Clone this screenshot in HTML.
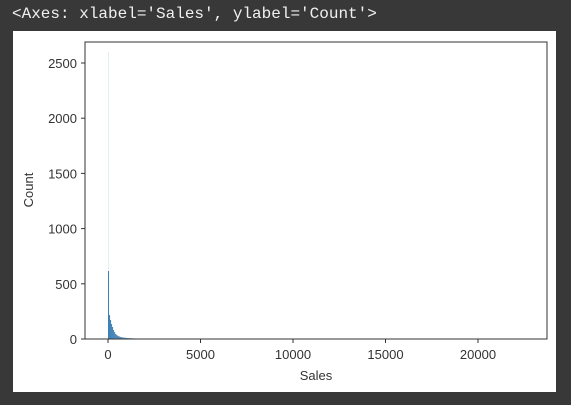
<!DOCTYPE html>
<html><head><meta charset="utf-8"><style>
body{margin:0;width:571px;height:405px;background:#383838;overflow:hidden;font-family:"Liberation Sans",sans-serif}
#hdr{position:absolute;left:12px;top:5px;color:#f0f0f0;font:16px "Liberation Mono","DejaVu Sans Mono",monospace}
#fig{position:absolute;left:13px;top:31px;width:543px;height:361px;background:#fff}
</style></head><body>
<div id="hdr">&lt;Axes: xlabel='Sales', ylabel='Count'&gt;</div>
<div id="fig"></div>
<svg id="chart" width="571" height="405" style="position:absolute;left:0;top:0"></svg>
<script>
const xTicks=[0,5000,10000,15000,20000];
const yTicks=[0,500,1000,1500,2000,2500];
const binWidth=55;
const binStarts=[0,55,110,165,220,275,330,385,440,495,550,605,660,715,770,825,880,935,990,1045,1100,1155,1210,1265,1320,1375,1430,1485,1540,1595,1650,1705,1760,1815,1870,1925,1980];
const binCounts=[616,217,172,136,109,82,63,45,38,30,26,22,18,16,14,12,12,10,9,8,8,7,7,6,6,5,5,5,4,4,4,4,3,3,3,3,3];
const spikeValue=2600;
const NS="http://www.w3.org/2000/svg";
const svg=document.getElementById('chart');
const L=85,R=547,T=42,B=339;
const X=v=>108+v*(478-108)/20000;
const Y=v=>B-v*(339-63)/2500;
function mk(t,a){const e=document.createElementNS(NS,t);for(const k in a)e.setAttribute(k,a[k]);svg.appendChild(e);return e;}
let sp=mk('rect',{x:X(0),y:Y(spikeValue),width:1,height:B-Y(spikeValue),fill:'#e6eef5'});


binStarts.forEach((s,i)=>{
  const r=mk('rect',{x:X(s),y:Y(binCounts[i]),width:Math.max(X(s+binWidth)-X(s),0.9),height:B-Y(binCounts[i]),fill:'#3e7fb4'});
  
  
});
let fr=mk('rect',{x:L,y:T,width:R-L,height:B-T,fill:'none',stroke:'#333',"stroke-width":1});


xTicks.forEach(v=>{
  const l=mk('line',{x1:X(v),x2:X(v),y1:B,y2:B+4,stroke:'#333'});
  
  
  const t=mk('text',{x:X(v),y:B+20,"text-anchor":"middle","font-size":"13",fill:'#333'});
  t.textContent=v;
  
  
});
yTicks.forEach(v=>{
  const l=mk('line',{x1:L-4,x2:L,y1:Y(v),y2:Y(v),stroke:'#333'});
  
  
  const t=mk('text',{x:L-8,y:Y(v)+5,"text-anchor":"end","font-size":"13",fill:'#333'});
  t.textContent=v;
  
  
});
const xl=mk('text',{x:316,y:380,"text-anchor":"middle","font-size":"13",fill:'#333'});
xl.textContent='Sales';


const yl=mk('text',{x:33,y:190,"text-anchor":"middle","font-size":"13",fill:'#333',transform:'rotate(-90 33 190)'});
yl.textContent='Count';


</script>
</body></html>
